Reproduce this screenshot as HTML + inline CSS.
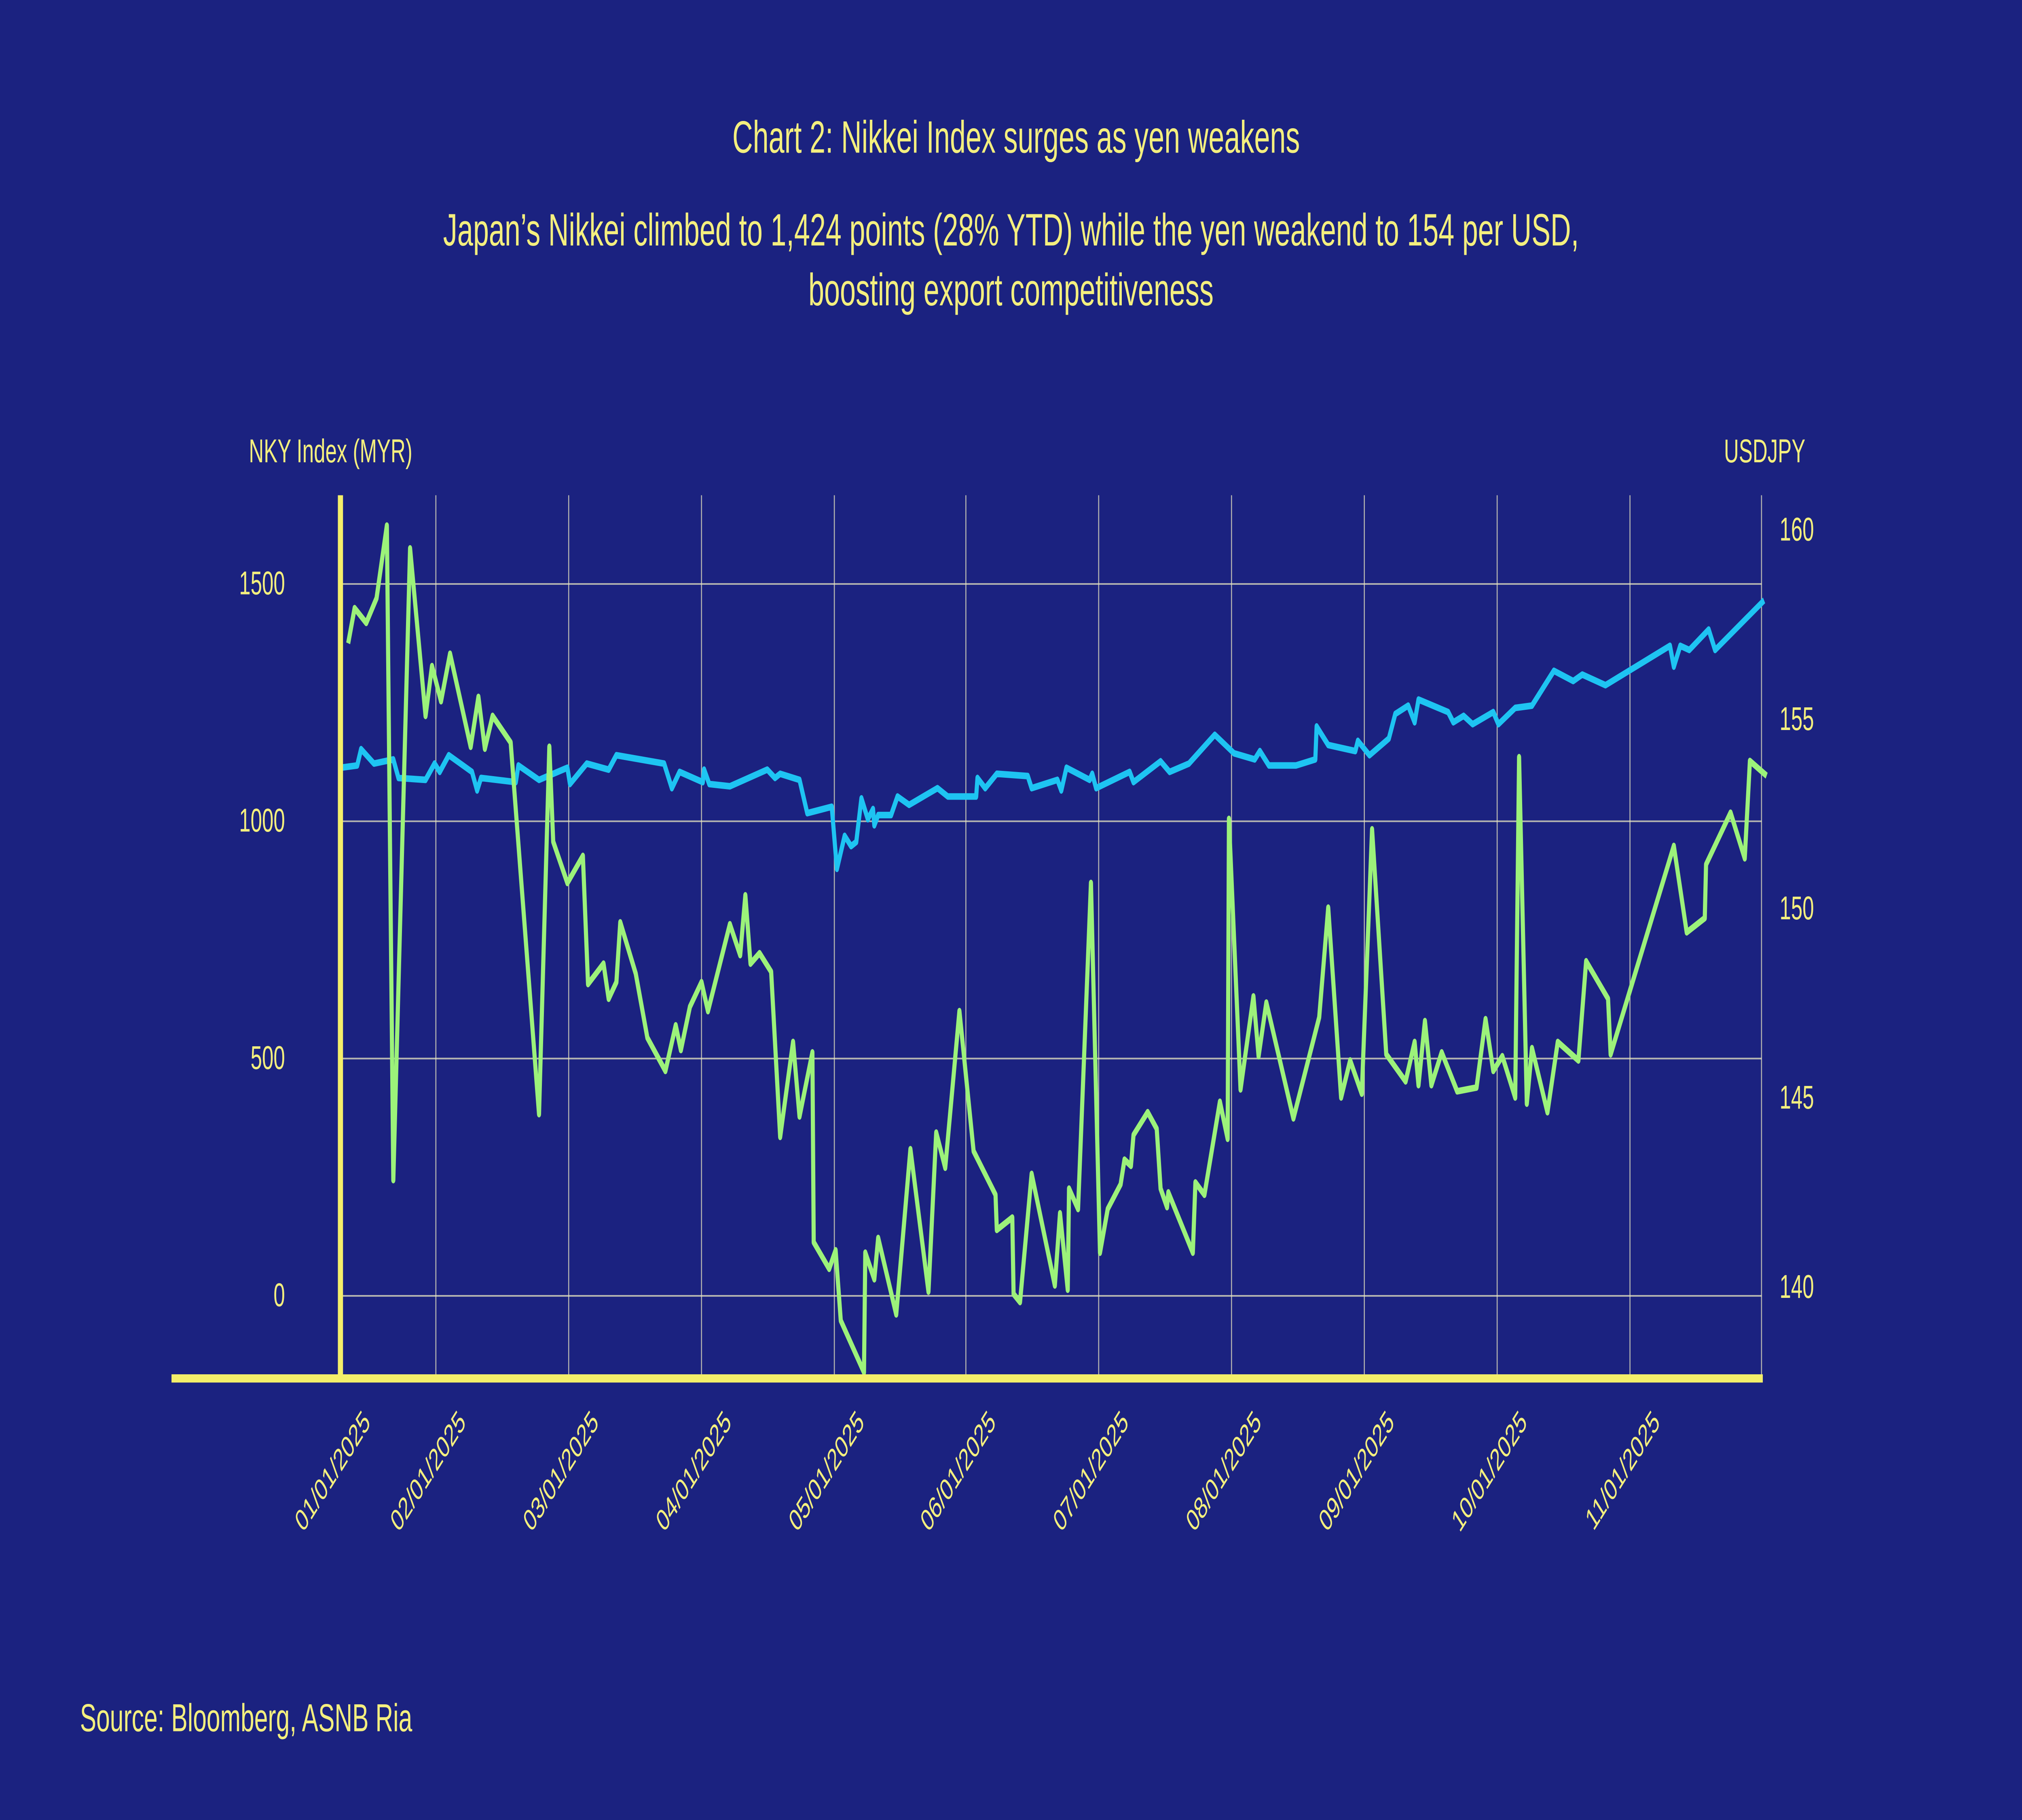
<!DOCTYPE html>
<html>
<head>
<meta charset="utf-8">
<style>
html,body{margin:0;padding:0;background:#1b2280;width:100%;height:100%;overflow:hidden;}
svg{display:block;width:100vw;height:100vh;position:absolute;left:0;top:0;}
text{font-family:"Liberation Sans",sans-serif;fill:#f4ef7e;}
</style>
</head>
<body>
<svg id="chart" viewBox="0 0 1568 882" preserveAspectRatio="none" xmlns="http://www.w3.org/2000/svg">
<rect x="0" y="0" width="1568" height="882" fill="#1b2280"/>
<text x="788" y="74" text-anchor="middle" font-size="22">Chart 2: Nikkei Index surges as yen weakens</text>
<text x="784" y="119" text-anchor="middle" font-size="22">Japan’s Nikkei climbed to 1,424 points (28% YTD) while the yen weakend to 154 per USD,</text>
<text x="784" y="148" text-anchor="middle" font-size="22">boosting export competitiveness</text>
<text x="193" y="224" font-size="16">NKY Index (MYR)</text>
<text x="1400" y="224" text-anchor="end" font-size="16">USDJPY</text>
<text x="62" y="839" font-size="19">Source: Bloomberg, ASNB Ria</text>
<g id="grid"></g>
<g id="ticks"></g>
<g id="series"></g>
<line x1="264" y1="240" x2="264" y2="668" stroke="#f4ef6a" stroke-width="4"/>
<line x1="133" y1="668" x2="1367" y2="668" stroke="#f4ef6a" stroke-width="4"/>
</svg>
<script>
const monthLabels = ["01/01/2025","02/01/2025","03/01/2025","04/01/2025","05/01/2025","06/01/2025","07/01/2025","08/01/2025","09/01/2025","10/01/2025","11/01/2025"];
const monthTicks = [0,14.8,35.4,56,76.6,97,117.6,138.2,158.8,179.4,200];
const leftTicks = [0,500,1000,1500];
const rightTicks = [140,145,150,155,160];
const nkyT = [1.2,2.2,4,5.6,7.2,8.2,10.8,13.2,14.2,15.6,17,20.2,21.4,22.4,23.6,26.4,30.8,32.4,33,35.2,37.6,38.4,40.8,41.6,42.8,43.4,45.8,47.6,50.4,52,52.8,54.2,56,57,60.4,62,62.8,63.6,65,66.8,68.2,70.2,71.2,73.2,73.4,75.8,76.8,77.6,81.2,81.4,82.8,83.4,86.2,88.4,91.2,92.4,93.8,96,98.2,101.6,101.8,104.2,104.4,105.4,107.2,110.8,111.6,112.8,113,114.4,116.4,117.8,119,121,121.6,122.6,123,125.2,126.6,127.2,128.2,128.4,132.2,132.6,134,136.4,137.6,137.8,139.6,141.6,142.4,143.6,147.8,151.8,153.2,155.2,156.6,158.4,160,162.2,165.2,166.6,167.2,168.2,169.2,170.8,173.2,176.2,177.6,178.8,180.2,182.2,182.8,184,184.8,187.2,188.8,192,193.2,196.6,197,206.8,208.8,211.6,211.8,215.6,217.8,218.6,221.2];
const nkyV = [1375,1449,1418,1470,1623,244,1575,1222,1327,1253,1353,1157,1262,1153,1222,1166,383,1157,957,870,927,657,700,626,661,787,679,544,474,570,518,609,661,600,783,718,844,700,722,683,335,535,378,513,113,57,96,-52,-161,91,35,122,-39,309,9,344,270,600,305,213,139,165,4,-13,257,22,174,13,226,183,870,91,183,235,287,274,339,387,352,226,187,218,91,239,213,409,331,1005,435,631,505,618,374,587,818,418,496,426,983,509,452,535,444,579,444,513,431,439,583,474,505,418,1135,405,522,387,535,496,705,626,509,948,766,796,909,1018,922,1127,1096];
const jpyT = [0,2.6,3.2,5.2,8.2,9,13.2,14.6,15.4,16.8,20.4,21.2,21.8,27.2,27.6,30.8,35.2,35.6,38.2,41.6,42.8,50.2,51.4,52.6,56.2,56.4,57.2,60.4,66.2,67.4,68.2,71.2,72.4,76.2,77,78.2,79.2,80,80.8,81.8,82.6,82.8,83.4,85.4,86.4,88.2,92.6,94.2,98.6,98.8,100,101.8,106.6,107.2,111.2,111.8,112.6,116.2,116.6,117.2,122.4,123,127.2,128.6,131.6,135.6,138.6,141.8,142.6,144,148.2,151.2,151.4,153.2,157.4,157.8,159.6,162.6,163.6,165.6,166.6,167.2,171.8,172.6,174.2,175.6,178.8,179.6,182.2,184.8,188.2,191.2,192.6,196.2,206.2,206.8,207.8,209.2,212.2,213.2,220.8];
const jpyV = [153.73,153.79,154.22,153.84,153.95,153.46,153.41,153.84,153.62,154.06,153.62,153.13,153.46,153.35,153.79,153.41,153.73,153.30,153.84,153.68,154.06,153.84,153.19,153.62,153.35,153.68,153.30,153.24,153.68,153.46,153.57,153.41,152.53,152.70,151.06,151.93,151.66,151.77,152.92,152.37,152.64,152.21,152.48,152.48,152.97,152.75,153.19,152.97,152.97,153.46,153.19,153.57,153.51,153.19,153.41,153.13,153.73,153.41,153.57,153.19,153.62,153.35,153.90,153.62,153.84,154.60,154.11,153.95,154.17,153.79,153.79,153.95,154.82,154.33,154.17,154.44,154.06,154.50,155.15,155.37,154.93,155.53,155.20,154.93,155.10,154.88,155.20,154.88,155.31,155.37,156.29,156.02,156.19,155.91,156.95,156.40,156.95,156.84,157.38,156.84,158.15];

const NS = "http://www.w3.org/2000/svg";
function xScale(t){ return 264 + t*5; }
function yLeft(v){ return 628 - v*0.23; }
function yRight(v){ return 624 - (v-140)*18.35; }
function mk(tag, attrs, parent){
  const e = document.createElementNS(NS, tag);
  for (const k in attrs) e.setAttribute(k, attrs[k]);
  parent.appendChild(e);
  return e;
}
const grid = document.getElementById('grid');
const ticks = document.getElementById('ticks');
const series = document.getElementById('series');

leftTicks.forEach((v,i)=>{
  const y = yLeft(v);
  const l = mk('line',{x1:264,x2:1366,y1:y,y2:y,stroke:'#e8e6c0','stroke-width':0.8,'stroke-opacity':0.75},grid);
  
  
  const t = mk('text',{x:221,y:y+5,'text-anchor':'end','font-size':16},ticks);
  t.textContent = String(v);
  
  
});
rightTicks.forEach((v)=>{
  const y = yRight(v);
  const t = mk('text',{x:1380,y:y+5,'font-size':16},ticks);
  t.textContent = String(v);
  
  
});
monthTicks.forEach((m,i)=>{
  const x = xScale(m);
  if (i>0){
    const l = mk('line',{x1:x,x2:x,y1:240,y2:668,stroke:'#e8e6c0','stroke-width':0.8,'stroke-opacity':0.75},grid);
    
    
  }
  const ax = x + 24, ay = 690;
  const t = mk('text',{x:ax,y:ay,'text-anchor':'end','font-size':15,transform:`rotate(-45 ${ax} ${ay})`},ticks);
  t.textContent = monthLabels[i];
  
  
});
const vl = mk('line',{x1:1366,x2:1366,y1:240,y2:668,stroke:'#e8e6c0','stroke-width':0.8,'stroke-opacity':0.75},grid);



const jpyPts = jpyT.map((t,i)=>xScale(t).toFixed(2)+','+yRight(jpyV[i]).toFixed(2)).join(' ');
const jp = mk('polyline',{points:jpyPts,fill:'none',stroke:'#1ec4f2','stroke-width':3.2,'stroke-linejoin':'round'},series);



const nkyPts = nkyT.map((t,i)=>xScale(t).toFixed(2)+','+yLeft(nkyV[i]).toFixed(2)).join(' ');
const nk = mk('polyline',{points:nkyPts,fill:'none',stroke:'#9cf27a','stroke-width':3.2,'stroke-linejoin':'round'},series);


</script>
</body>
</html>
